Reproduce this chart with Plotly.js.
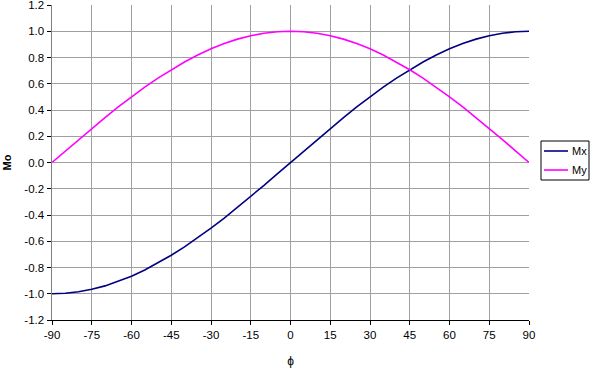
<!DOCTYPE html>
<html>
<head>
<meta charset="utf-8">
<script src="https://cdn.plot.ly/plotly-3.0.1.min.js"></script>
<style>html,body{margin:0;padding:0;background:#fff;}#chart{width:596px;height:368px;}</style>
</head>
<body>
<div id="chart"></div>
<script>
const phi = [-90,-85,-80,-75,-70,-65,-60,-55,-50,-45,-40,-35,-30,-25,-20,-15,-10,-5,0,5,10,15,20,25,30,35,40,45,50,55,60,65,70,75,80,85,90];
const mx = [-1,-0.996,-0.985,-0.966,-0.94,-0.906,-0.866,-0.819,-0.766,-0.707,-0.643,-0.574,-0.5,-0.423,-0.342,-0.259,-0.174,-0.087,0,0.087,0.174,0.259,0.342,0.423,0.5,0.574,0.643,0.707,0.766,0.819,0.866,0.906,0.94,0.966,0.985,0.996,1];
const my = [0,0.087,0.174,0.259,0.342,0.423,0.5,0.574,0.643,0.707,0.766,0.819,0.866,0.906,0.94,0.966,0.985,0.996,1,0.996,0.985,0.966,0.94,0.906,0.866,0.819,0.766,0.707,0.643,0.574,0.5,0.423,0.342,0.259,0.174,0.087,0];
const seriesNames = ['Mx', 'My'];
const seriesColors = ['#000080', '#ff00ff'];
const xTicks = [-90,-75,-60,-45,-30,-15,0,15,30,45,60,75,90];
const xTickText = ['-90','-75','-60','-45','-30','-15','0','15','30','45','60','75','90'];
const yTicks = [-1.2,-1.0,-0.8,-0.6,-0.4,-0.2,0,0.2,0.4,0.6,0.8,1.0,1.2];
const yTickText = ['-1.2','-1.0','-0.8','-0.6','-0.4','-0.2','0.0','0.2','0.4','0.6','0.8','1.0','1.2'];

const font = {family: 'Liberation Sans, Arial, sans-serif', size: 11, color: '#000'};
const tickFont = {family: font.family, size: 11.5, color: '#000'};
const data = [
  {x: phi, y: mx, name: seriesNames[0], type: 'scatter', mode: 'lines', line: {color: seriesColors[0], width: 1.6}},
  {x: phi, y: my, name: seriesNames[1], type: 'scatter', mode: 'lines', line: {color: seriesColors[1], width: 1.6}}
];

// Custom compact legend (box, swatches, labels) positioned in paper coordinates
const W = 596, H = 368, mL = 52, mR = 67, mT = 5, mB = 48;
const pw = W - mL - mR, ph = H - mT - mB;
const px = v => (v - mL) / pw;
const py = v => (H - mB - v) / ph;
const shapes = [
  {type: 'rect', xref: 'paper', yref: 'paper', x0: px(541), x1: px(589), y0: py(180), y1: py(141),
   line: {color: '#000', width: 1}, fillcolor: '#fff', layer: 'above'}
];
const annotations = [];
seriesNames.forEach((n, i) => {
  const yy = 151 + i * 19;
  shapes.push({type: 'line', xref: 'paper', yref: 'paper', x0: px(544), x1: px(568), y0: py(yy), y1: py(yy),
               line: {color: seriesColors[i], width: 1.6}, layer: 'above'});
  annotations.push({xref: 'paper', yref: 'paper', x: px(570), y: py(yy), xanchor: 'left', yanchor: 'middle',
                    text: n, showarrow: false, font: {family: font.family, size: 11, color: '#000'}});
});

const layout = {
  width: W, height: H,
  margin: {l: mL, r: mR, t: mT, b: mB, autoexpand: false},
  paper_bgcolor: '#fff', plot_bgcolor: '#fff',
  font: font,
  showlegend: false,
  shapes: shapes,
  annotations: annotations,
  xaxis: {
    range: [-90, 90], tickvals: xTicks, ticktext: xTickText, tickfont: tickFont,
    showgrid: true, gridcolor: '#a0a0a0', gridwidth: 1,
    showline: true, linecolor: '#000', linewidth: 1,
    ticks: 'outside', ticklen: 4, tickcolor: '#000',
    zeroline: false, mirror: false, ticklabeloverflow: 'allow',
    title: {text: 'ϕ', font: {family: font.family, size: 12, color: '#000'}, standoff: 22},
    fixedrange: true
  },
  yaxis: {
    range: [-1.2, 1.2], tickvals: yTicks, ticktext: yTickText, tickfont: tickFont,
    showgrid: true, gridcolor: '#a0a0a0', gridwidth: 1,
    showline: true, linecolor: '#808080', linewidth: 1.5,
    ticks: 'outside', ticklen: 4, tickcolor: '#000',
    zeroline: false, ticklabeloverflow: 'allow',
    title: {text: '<b>Mo</b>', font: {family: font.family, size: 11, color: '#000'}, standoff: 10},
    fixedrange: true
  }
};
Plotly.newPlot('chart', data, layout, {displayModeBar: false, staticPlot: true});
</script>
</body>
</html>
